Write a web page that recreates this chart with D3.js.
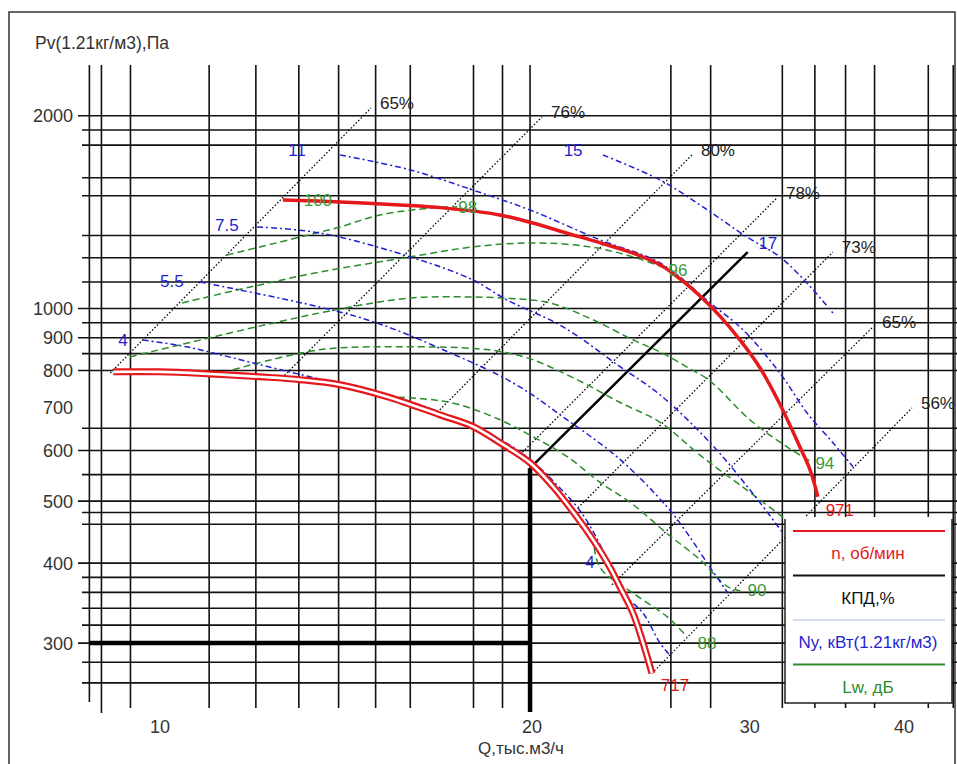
<!DOCTYPE html>
<html><head><meta charset="utf-8">
<script src="https://cdn.jsdelivr.net/npm/d3@7"></script>
<style>
body{margin:0;background:#fff;}
text{font-family:"Liberation Sans",Arial,sans-serif;font-size:17px;}
</style></head>
<body><div id="chart"></div>
<script>
// grid values (Q, тыс.м3/ч and Pv, Па)
const gridQ = [8.8, 9, 9.5, 11, 12, 13, 14, 15, 16, 18, 19, 20, 26, 28, 32, 34, 36, 38, 42, 44];
const gridP = [2000, 1900, 1800, 1600, 1500, 1300, 1200, 1100, 1000, 950, 900, 850, 800,
               650, 600, 550, 500, 480, 460, 400, 380, 360, 340, 320, 300, 280, 260];
const xTicks = [10, 20, 30, 40];
const yTicks = [2000, 1000, 900, 800, 700, 600, 500, 400, 300];

// fan curves n, об/мин
const curve971 = [[12.62,1477],[14.04,1467],[15.70,1451],[17.0,1436],[18.9,1400],[20.1,1360],[21.4,1312],
  [22.8,1266],[24.2,1221],[25.5,1169],[26.45,1112],[27.45,1046],[28.49,973],[29.57,893],[30.69,808],
  [31.85,709],[33.06,608],[33.69,560],[34.19,508]];
const curve717 = [[9.2,796],[10.04,796],[11.02,790],[12.09,782],[13.03,774],[14.04,760],[15.32,728],
  [16.91,682],[17.98,654],[18.91,617],[20.0,574],[20.87,527],[21.83,472],[22.49,435],[23.21,394],
  [23.65,367],[24.23,334],[24.69,300],[25.10,269]];

// КПД lines (start, end) and labels
const effLines = [[[9.15,793],[14.87,2057]], [[12.60,779],[20.45,1992]], [[16.75,682],[27.04,1737]],
  [[19.63,591],[31.68,1488]], [[21.87,488],[35.16,1225]], [[23.30,370],[37.89,936]], [[25.10,269],[40.74,699]]];
const effLabels = ["65%", "76%", "80%", "78%", "73%", "65%", "56%"];

// Ny, кВт lines
const powerLines = [
  [[14.04,1737],[16.00,1646],[17.98,1531],[20.0,1425],[22.78,1280],[25.48,1178],[27.97,1020],[29.74,926],
   [31.85,793],[33.50,687],[35.16,617],[36.50,566]],
  [[22.91,1737],[25.48,1588],[27.60,1441],[29.96,1293],[31.85,1204],[33.50,1096],[35.16,984]],
  [[12.03,1341],[13.52,1312],[16.00,1204],[17.98,1108],[19.16,1031],[21.27,936],[23.65,811],[25.48,733],
   [27.97,617],[30.12,521],[32.03,446]],
  [[10.81,1100],[13.52,1005],[15.04,949],[17.01,862],[19.38,765],[21.43,670],[23.65,581],[25.81,490],
   [26.79,446],[27.97,394],[28.92,359]],
  [[9.72,893],[10.55,871],[11.08,852],[11.94,822],[13.27,782],[15.32,733],[16.91,688],[18.91,624],
   [20.0,581],[20.95,534],[22.07,476],[23.43,383],[23.78,359],[24.69,334],[25.48,300],[25.96,287]]
];
const powerLabels = [["11",12.96,1768],["15",21.67,1768],["7.5",11.37,1350],["5.5",10.26,1104],
  ["4",9.37,893],["4",22.36,402],["17",31.15,1266]];

// Lw, дБ lines
const soundLines = [
  [[11.37,1212],[13.03,1293],[14.04,1341],[15.12,1400],[16.69,1436],[17.46,1441]],
  [[10.46,1020],[11.87,1080],[13.52,1140],[16.00,1204],[17.98,1248],[20.12,1266],[22.36,1248],[24.23,1204],[25.96,1148]],
  [[9.49,840],[13.52,984],[16.00,1038],[17.98,1042],[19.38,1036],[20.76,1020],[22.49,960],[24.23,893],
   [25.48,855],[26.79,810],[27.97,770],[30.12,670],[32.27,608],[33.88,574]],
  [[11.50,802],[13.52,862],[16.00,871],[17.98,866],[19.02,855],[20.12,831],[21.83,774],
   [23.65,713],[25.48,664],[27.45,590],[29.96,520],[32.03,472],[33.5,440]],
  [[15.32,728],[16.69,720],[17.55,707],[18.91,670],[20.12,630],[21.43,587],[22.78,535],[24.23,494],
   [25.81,445],[27.45,405],[28.87,368],[29.6,362]],
  [[22.49,440],[22.78,394],[24.23,359],[25.81,330],[26.79,307]]
];
const soundLabels = [["100",13.47,1477],["98",17.81,1441],["96",26.35,1148],["94",34.64,574],
  ["90",30.52,363],["88",27.81,300]];

const speedLabels = [["971",35.62,484],["717",26.2,258]];

// duty point lines
const dutyQ = 20, dutyP = 563, dutyPmin = 300;
const systemLine = [[20, 563], [30.0, 1225]];

const legendLabels = ["n, об/мин", "КПД,%", "Ny, кВт(1.21кг/м3)", "Lw, дБ"];

const red = "#e5181c", blue = "#1f1fcf", green = "#2a8c2a", black = "#111";
const legendLineColors = [red, black, "#d6ddf2", green];
const legendTextColors = [red, black, blue, green];

const width = 957, height = 764;
const plotTop = 65, plotBottom = 708, plotLeft = 82, plotRight = 957;

const svg = d3.select("#chart").append("svg")
    .attr("width", width).attr("height", height);

const x = d3.scaleLog().domain([10, 40]).range([158, 902.1]);
const y = d3.scaleLog().domain([300, 2000]).range([643.1, 115.8]);

// frame
svg.append("rect")
    .attr("x", 9).attr("y", 12).attr("width", 946).attr("height", 780)
    .attr("fill", "none").attr("stroke", "#333").attr("stroke-width", 1.5);

// title
svg.append("text").attr("x", 35).attr("y", 49).attr("fill", "#333")
    .style("font-size", "17.5px").text("Pv(1.21кг/м3),Па");

// grid
svg.append("g").selectAll("line").data(gridQ).join("line")
    .attr("x1", d => x(d)).attr("x2", d => x(d))
    .attr("y1", plotTop).attr("y2", (d, i) => i === 0 ? 702 : i === 1 ? 713 : plotBottom)
    .attr("stroke", black).attr("stroke-width", 1.6);

svg.append("g").selectAll("line").data(gridP).join("line")
    .attr("x1", d => yTicks.includes(d) ? 78 : plotLeft).attr("x2", plotRight)
    .attr("y1", d => y(d)).attr("y2", d => y(d))
    .attr("stroke", black).attr("stroke-width", 1.6);

// tick labels
svg.append("g").selectAll("text").data(yTicks).join("text")
    .attr("x", 73).attr("y", d => y(d)).attr("dy", "0.36em")
    .attr("text-anchor", "end").attr("fill", "#333").style("font-size", "18px").text(d => d);

svg.append("g").selectAll("text").data(xTicks).join("text")
    .attr("x", d => x(d) + 2).attr("y", 733)
    .attr("text-anchor", "middle").attr("fill", "#333").style("font-size", "18px").text(d => d);

svg.append("text").attr("x", 521).attr("y", 754).attr("text-anchor", "middle")
    .attr("fill", "#333").text("Q,тыс.м3/ч");

// thick duty lines
svg.append("line")
    .attr("x1", x(8.8)).attr("x2", x(dutyQ))
    .attr("y1", y(dutyPmin)).attr("y2", y(dutyPmin))
    .attr("stroke", "#000").attr("stroke-width", 4.5);
svg.append("line")
    .attr("x1", x(dutyQ)).attr("x2", x(dutyQ))
    .attr("y1", y(dutyP)).attr("y2", 712)
    .attr("stroke", "#000").attr("stroke-width", 4.5);

const line = d3.line().x(d => x(d[0])).y(d => y(d[1]));
const smooth = d3.line().x(d => x(d[0])).y(d => y(d[1])).curve(d3.curveCatmullRom.alpha(0.5));

svg.append("path").datum(systemLine).attr("d", line)
    .attr("fill", "none").attr("stroke", "#000").attr("stroke-width", 2.5);

// efficiency lines
svg.append("g").selectAll("path").data(effLines).join("path")
    .attr("d", line).attr("fill", "none").attr("stroke", "#000")
    .attr("stroke-width", 1.3).attr("stroke-dasharray", "1.5,2");

svg.append("g").selectAll("text").data(effLines).join("text")
    .attr("x", d => x(d[1][0]) + 9).attr("y", d => y(d[1][1]) + 1)
    .attr("fill", "#222").text((d, i) => effLabels[i]);

// sound lines
svg.append("g").selectAll("path").data(soundLines).join("path")
    .attr("d", smooth).attr("fill", "none").attr("stroke", green)
    .attr("stroke-width", 1.5).attr("stroke-dasharray", "7,4");

// power lines
svg.append("g").selectAll("path").data(powerLines).join("path")
    .attr("d", smooth).attr("fill", "none").attr("stroke", blue)
    .attr("stroke-width", 1.5).attr("stroke-dasharray", "6,3,2,3");

// fan curves
svg.append("path").datum(curve717).attr("d", smooth)
    .attr("fill", "none").attr("stroke", red).attr("stroke-width", 7);
svg.append("path").datum(curve717).attr("d", smooth)
    .attr("fill", "none").attr("stroke", "#fff").attr("stroke-width", 2.6);
svg.append("path").datum(curve971).attr("d", smooth)
    .attr("fill", "none").attr("stroke", red).attr("stroke-width", 3.5);

// curve labels
function labels(data, color) {
  svg.append("g").selectAll("text").data(data).join("text")
      .attr("x", d => x(d[1])).attr("y", d => y(d[2])).attr("dy", "0.36em")
      .attr("text-anchor", "middle").attr("fill", color).text(d => d[0]);
}
labels(powerLabels, blue);
labels(soundLabels, "#3c9a3c");
labels(speedLabels, red);

// legend (no top border)
const lg = svg.append("g").attr("transform", "translate(785,517)");
lg.append("rect").attr("width", 167).attr("height", 186).attr("fill", "#fff");
lg.append("path").attr("d", "M0,2V186H167V2")
    .attr("fill", "none").attr("stroke", "#222").attr("stroke-width", 1.5);
legendLabels.forEach((t, i) => {
  lg.append("line").attr("x1", 8).attr("x2", 160)
      .attr("y1", 14 + i * 44.5).attr("y2", 14 + i * 44.5)
      .attr("stroke", legendLineColors[i]).attr("stroke-width", 2);
  lg.append("text").attr("x", 83).attr("y", 36 + i * 44.5).attr("dy", "0.36em")
      .attr("text-anchor", "middle").attr("fill", legendTextColors[i]).text(t);
});
</script>
</body></html>
